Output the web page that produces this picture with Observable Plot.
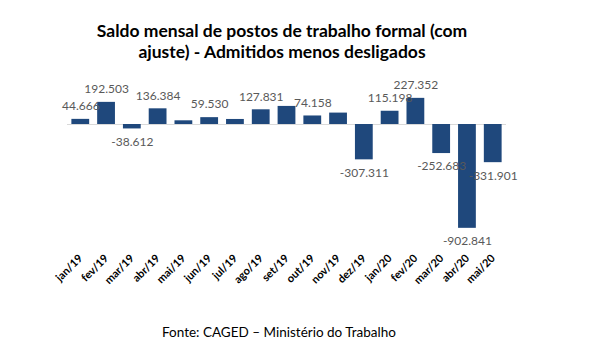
<!DOCTYPE html>
<html><head><meta charset="utf-8">
<script src="https://cdn.jsdelivr.net/npm/d3@7"></script>
<script src="https://cdn.jsdelivr.net/npm/@observablehq/plot@0.6"></script>
<style>
body{margin:0;background:#fff;font-family:Lato,"Open Sans",sans-serif;}
#wrap{width:599px;height:358px;position:relative;overflow:hidden;}
#title{width:564px;height:68px;box-sizing:border-box;padding-top:20px;text-align:center;font-weight:bold;font-size:17.5px;line-height:21px;color:#000;}
#cap{width:558px;text-align:center;font-size:13.5px;color:#000;margin-top:16px;}
</style></head>
<body><div id="wrap">
<div id="title">Saldo mensal de postos de trabalho formal (com<br>ajuste) - Admitidos menos desligados</div>
<div id="chart"></div>
<div id="cap">Fonte: CAGED – Ministério do Trabalho</div>
</div>
<script>
const months = ["jan/19","fev/19","mar/19","abr/19","mai/19","jun/19","jul/19","ago/19","set/19","out/19","nov/19","dez/19","jan/20","fev/20","mar/20","abr/20","mai/20"];
const saldo = [44666,192503,-38612,136384,32140,59530,43820,127831,157213,74158,99232,-307311,115198,227352,-252683,-902841,-331901];
const showLabel = [true,true,true,true,false,true,false,true,false,true,false,true,true,true,true,true,true];

const loc = d3.formatLocale({decimal:",",thousands:".",grouping:[3],currency:["R$",""],minus:"-"});
const fmt = loc.format(",d");
const data = months.map((m,i)=>({m, v:saldo[i], show:showLabel[i]}));
const labeled = data.filter(d=>d.show);

const chart = Plot.plot({
  width:599, height:240, marginTop:10, marginBottom:69, marginLeft:67, marginRight:93,
  style:{fontFamily:"Lato, 'Open Sans', sans-serif", background:"#fff"},
  x:{domain:months, paddingInner:0.31, paddingOuter:0.17, round:false, label:null},
  y:{domain:[-1000000,400000], axis:null},
  marks:[
    Plot.ruleY([0],{stroke:"#d9d9d9", strokeWidth:1}),
    Plot.barY(data,{x:"m", y:"v", fill:"#1f487c"}),
    Plot.text(labeled.filter(d=>d.v>=0),{x:"m", y:"v", text:d=>fmt(d.v), dy:-13, fill:"#595959", fontSize:12}),
    Plot.text(labeled.filter(d=>d.v<0),{x:"m", y:"v", text:d=>fmt(d.v), dy:13, fill:"#595959", fontSize:12}),
    Plot.axisX({tickSize:0, tickPadding:17, tickRotate:-45, fontWeight:"bold", fontSize:11, fill:"#000", label:null})
  ]
});
document.getElementById("chart").appendChild(chart);
</script>
</body></html>
